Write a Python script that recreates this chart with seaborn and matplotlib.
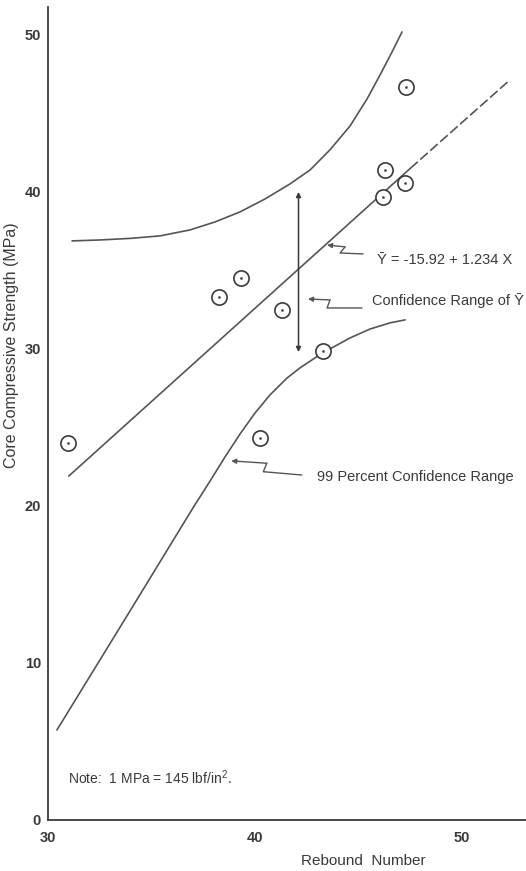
"""Core compressive strength vs rebound number, with regression and 99% confidence range."""

import matplotlib

matplotlib.use("Agg")
import matplotlib.pyplot as plt
import pandas as pd
import seaborn as sns

# measured cores
rebound = [30.98, 38.26, 39.31, 41.32, 40.24, 43.30, 46.17, 46.28, 47.25, 47.28]
strength = [23.99, 33.29, 34.54, 32.48, 24.35, 29.87, 39.70, 41.40, 40.59, 46.67]

# regression line (solid part, then dashed extrapolation)
reg_solid_x = [31.0, 47.5]
reg_solid_y = [21.9, 41.5]
reg_dash_x = [47.5, 52.2]
reg_dash_y = [41.5, 47.0]

# 99 percent confidence bounds
upper_x = [31.16, 32.51, 33.96, 35.41, 36.86, 38.07, 39.28, 40.48,
           41.69, 42.66, 43.62, 44.59, 45.41, 46.04, 46.62, 47.10]
upper_y = [36.88, 36.94, 37.04, 37.20, 37.58, 38.09, 38.73, 39.55,
           40.51, 41.40, 42.68, 44.20, 45.92, 47.45, 48.92, 50.19]
lower_x = [30.43, 33.96, 37.00, 37.83, 38.55, 39.28, 40.00, 40.72,
           41.55, 42.17, 42.90, 43.62, 44.59, 45.56, 46.52, 47.25]
lower_y = [5.73, 13.31, 19.87, 21.59, 23.12, 24.59, 25.92, 27.07,
           28.15, 28.79, 29.43, 30.00, 30.70, 31.27, 31.66, 31.85]

# confidence range of Y-bar at X = 42
range_x = 42.1
range_y = [29.8, 40.0]

x_ticks = [30, 40, 50]
y_ticks = [0, 10, 20, 30, 40, 50]

INK = "#3a3a3a"
LINE = "#555555"
FONTS = ["Liberation Sans", "DejaVu Sans"]


def leader(ax, pts):
    # hand-drawn style leader: arrow head on the first point, zigzag back to the text
    ax.annotate("", xy=pts[0], xytext=pts[1],
                arrowprops=dict(arrowstyle="-|>", color=LINE, lw=1.0,
                                mutation_scale=7, shrinkA=0, shrinkB=0))
    ax.plot([p[0] for p in pts[1:]], [p[1] for p in pts[1:]], color=LINE, lw=1.0)


def main() -> None:
    sns.set_theme(style="white")
    plt.rcParams["font.family"] = FONTS
    plt.rcParams["mathtext.fontset"] = "custom"
    plt.rcParams["mathtext.rm"] = "Liberation Sans"
    plt.rcParams["lines.solid_joinstyle"] = "round"

    fig = plt.figure(figsize=(5.26, 8.71), dpi=100)
    ax = fig.add_axes([0.0913, 0.0586, 0.9087, 0.9334])

    pts = pd.DataFrame({"rebound": rebound, "strength": strength})
    upper = pd.DataFrame({"x": upper_x, "y": upper_y})
    lower = pd.DataFrame({"x": lower_x, "y": lower_y})

    sns.lineplot(data=upper, x="x", y="y", sort=False, estimator=None,
                 color=LINE, lw=1.2, ax=ax)
    sns.lineplot(data=lower, x="x", y="y", sort=False, estimator=None,
                 color=LINE, lw=1.2, ax=ax)
    sns.lineplot(x=reg_solid_x, y=reg_solid_y, color=LINE, lw=1.2, ax=ax)
    ax.plot(reg_dash_x, reg_dash_y, color=LINE, lw=1.2, dashes=(6, 2))

    sns.scatterplot(data=pts, x="rebound", y="strength", s=120, marker="o",
                    facecolor="white", edgecolor=INK, linewidth=1.2, zorder=3, ax=ax)
    sns.scatterplot(data=pts, x="rebound", y="strength", s=3, color=INK,
                    edgecolor=INK, zorder=4, ax=ax)

    ax.annotate("", xy=(range_x, range_y[1]), xytext=(range_x, range_y[0]),
                arrowprops=dict(arrowstyle="<|-|>", color=INK, lw=1.1,
                                mutation_scale=7, shrinkA=0, shrinkB=0))

    leader(ax, [(43.48, 36.62), (44.35, 36.50), (44.11, 36.11), (45.22, 36.05)])
    leader(ax, [(42.56, 33.18), (43.62, 33.12), (43.48, 32.61), (45.17, 32.61)])
    leader(ax, [(38.85, 22.87), (40.57, 22.72), (40.40, 22.18), (42.26, 21.97)])

    txt = dict(color=INK, fontsize=10.5, va="center", ha="left")
    ax.text(45.89, 35.67, "\u0232 = -15.92 + 1.234 X", **txt)
    ax.text(45.65, 33.06, "Confidence Range of \u0232", **txt)
    ax.text(43.0, 21.85, "99 Percent Confidence Range", **txt)
    ax.text(30.97, 2.68, r"Note:  1 MPa = 145 lbf/in$^{2}$.", color=INK,
            fontsize=10, va="center", ha="left")

    ax.set_xlim(30, 53.09)
    ax.set_ylim(0, 51.78)
    ax.set_xticks(x_ticks)
    ax.set_yticks(y_ticks)
    ax.tick_params(axis="both", direction="out", length=4, width=1.1, color=INK,
                   labelsize=10.5, labelcolor=INK, pad=1)
    ax.tick_params(axis="x", pad=4)
    for lab in ax.get_xticklabels() + ax.get_yticklabels():
        lab.set_fontweight("bold")

    ax.set_xlabel("Rebound  Number", fontsize=11, color=INK)
    ax.set_ylabel("Core Compressive Strength (MPa)", fontsize=11.5, color=INK)
    ax.xaxis.set_label_coords(0.66, -0.042)
    ax.yaxis.set_label_coords(-0.061, 0.584)

    for side in ("top", "right"):
        ax.spines[side].set_visible(False)
    for side in ("left", "bottom"):
        ax.spines[side].set_color(INK)
        ax.spines[side].set_linewidth(1.3)
    ax.grid(False)

    fig.savefig("out.png", dpi=100, facecolor="white")
    plt.close(fig)


if __name__ == "__main__":
    main()
